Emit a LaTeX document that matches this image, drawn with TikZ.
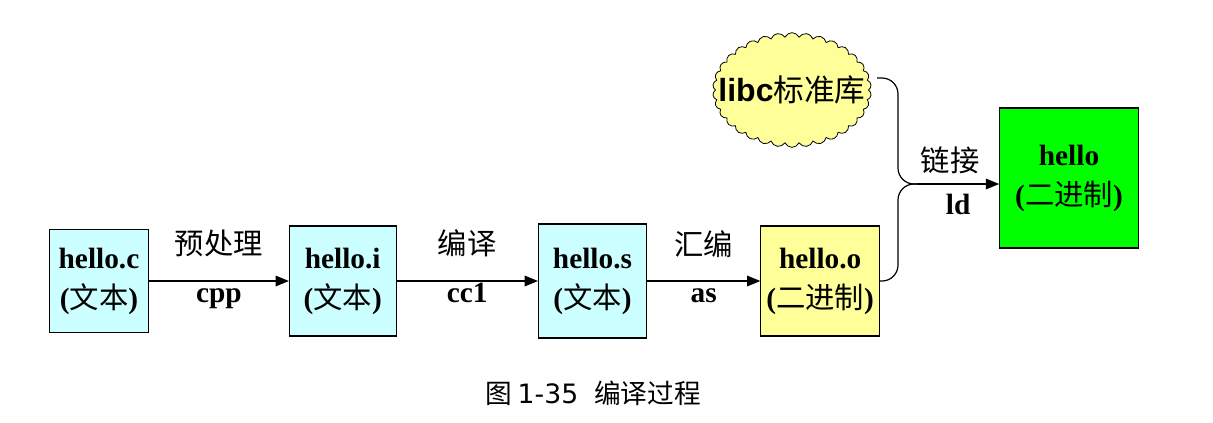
\documentclass[tikz,border=0pt]{standalone}
\usepackage{fontspec}
\setmainfont{Liberation Serif}
\newfontfamily\cjk{Noto Sans CJK SC}
\newfontfamily\sansb{Liberation Sans}
\newfontfamily\capfont{DejaVu Sans}
\usetikzlibrary{shapes.symbols, arrows.meta, positioning}
\definecolor{srccyan}{HTML}{CCFFFF}
\definecolor{objyellow}{HTML}{FFFF99}
\definecolor{exegreen}{HTML}{00FF00}
\newcommand{\zh}[1]{{\cjk\mdseries #1}}

\begin{document}
\begin{tikzpicture}[x=0.75pt, y=-0.75pt,
		file/.style={rectangle, draw, line width=0.8pt, align=center, inner sep=0pt, minimum width=80pt, minimum height=82.5pt, font=\fontsize{22}{30}\selectfont\bfseries},
		tool/.style={font=\cjk\fontsize{22}{26}\selectfont},
		cmd/.style={anchor=base, fill=white, inner xsep=1pt, inner ysep=2pt, text height=0.9em, text depth=0.25em, font=\fontsize{22}{26}\selectfont\bfseries},
		libcloud/.style={cloud, draw, line width=0.6pt, fill=objyellow, cloud puffs=34, cloud puff arc=130, cloud ignores aspect, minimum width=119pt, minimum height=86pt, inner sep=0pt},
		link/.style={line width=0.9pt, rounded corners=12pt},
		arrow/.style={-{Triangle[length=10pt, width=8pt]}, line width=0.9pt}
		]
		\useasboundingbox (0,0) rectangle (1213,422);
		
		% Fichiers source et intermediaires
		\node[file, fill=srccyan, minimum width=74pt, minimum height=77pt] (helloc) at (99,281) {hello.c\\(\zh{文本})};
		\node[file, fill=srccyan, right=105pt of helloc] (helloi) {hello.i\\(\zh{文本})};
		\node[file, fill=srccyan, minimum width=81pt, minimum height=85.5pt, right=106pt of helloi] (hellos) {hello.s\\(\zh{文本})};
		\node[file, fill=objyellow, minimum width=89pt, right=85pt of hellos] (helloo) {hello.o\\(\zh{二进制})};
		
		% Executable
		\node[file, fill=exegreen, minimum width=104pt, minimum height=105pt] (hello) at (1069,178) {hello\\(\zh{二进制})};
		
		% Bibliotheque
		\node[libcloud] (libc) at (792,90) {};
		\node[font=\sansb\bfseries\fontsize{24}{26}\selectfont] (libctxt) at (libc) {libc\zh{\fontsize{23}{26}\selectfont 标准库}};
		
		% Etapes
		\draw[arrow] (helloc.east) -- node[tool, above=14pt] {预处理} node[cmd, yshift=-15.75pt] {cpp} (helloi.west);
		\draw[arrow] (helloi.east) -- node[tool, above=14pt] {编译} node[cmd, yshift=-15.75pt] {cc1} (hellos.west);
		\draw[arrow] (hellos.east) -- node[tool, above=14pt] {汇编} node[cmd, yshift=-15.75pt] {as} (helloo.west);
		
		% Edition de liens
		\coordinate (merge) at (917,184);
		\coordinate (bend) at (898,184);
		\draw[link] ([xshift=6pt, yshift=9pt]libc.east) -| (bend) -- (merge);
		\draw[link] (helloo.east) -| (bend) -- (merge);
		\draw[arrow] (merge) -- node[tool, above=4pt, xshift=-6pt] {链接} node[cmd, yshift=-23pt] {ld} (merge -| hello.west);
		
		% Legende
		\node[font=\cjk\fontsize{20}{22}\selectfont] (caption) at (593,393) {图 {\capfont 1-35}\hspace{0.6em}编译过程};
		
	\end{tikzpicture}
\end{document}
